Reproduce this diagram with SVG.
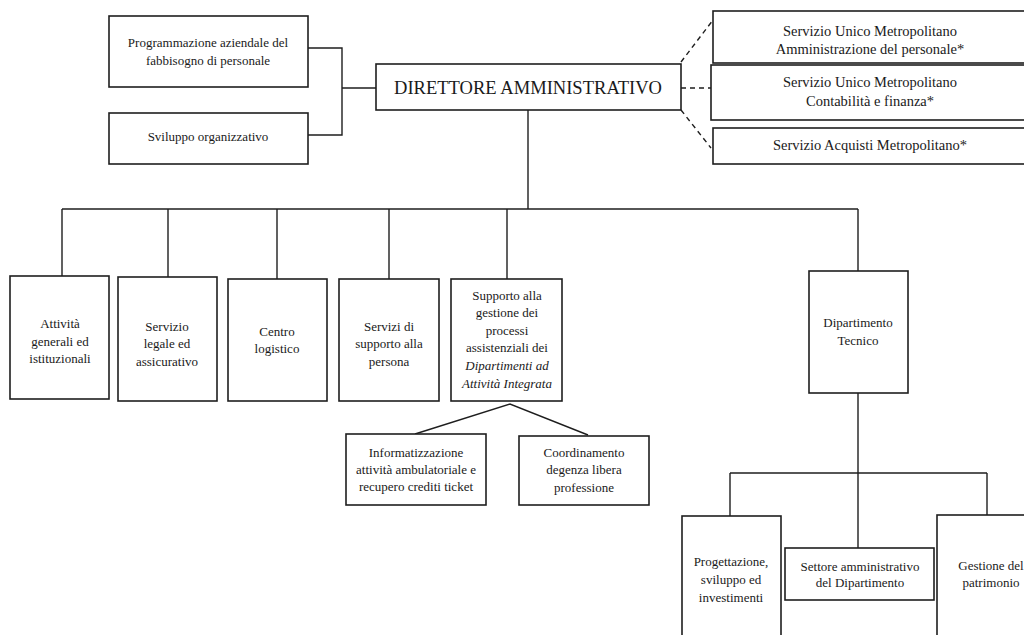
<svg xmlns="http://www.w3.org/2000/svg" width="1024" height="635" viewBox="0 0 1024 635">
<style>
.box{fill:#fff;stroke:#1e1e1e;stroke-width:1.6}
.ln{fill:none;stroke:#1e1e1e;stroke-width:1.4}
.dash{fill:none;stroke:#1e1e1e;stroke-width:1.4;stroke-dasharray:5 4}
text{font-family:"Liberation Serif","Times New Roman",serif;fill:#1a1a1a;text-anchor:middle}
.s{font-size:13px}
.m{font-size:14.5px}
.it{font-style:italic}
</style>
<rect width="1024" height="635" fill="#fff"/>
<g id="connectors">
<polyline class="ln" points="308,48 342,48 342,135 308,135"/>
<line class="ln" x1="342" y1="88" x2="376" y2="88"/>
<line class="dash" x1="681" y1="62" x2="713" y2="20"/>
<line class="dash" x1="681" y1="88" x2="711" y2="88"/>
<line class="dash" x1="681" y1="110" x2="711" y2="148"/>
<line class="ln" x1="528" y1="110" x2="528" y2="209"/>
<line class="ln" x1="62" y1="209" x2="858" y2="209"/>
<line class="ln" x1="62" y1="209" x2="62" y2="276"/>
<line class="ln" x1="168" y1="209" x2="168" y2="277"/>
<line class="ln" x1="277" y1="209" x2="277" y2="279"/>
<line class="ln" x1="389" y1="209" x2="389" y2="279"/>
<line class="ln" x1="507" y1="209" x2="507" y2="279"/>
<line class="ln" x1="858" y1="209" x2="858" y2="271"/>
<polyline class="ln" points="415,434 510,404 588,435"/>
<line class="ln" x1="858" y1="393" x2="858" y2="548"/>
<line class="ln" x1="730" y1="473" x2="987" y2="473"/>
<line class="ln" x1="730" y1="473" x2="730" y2="516"/>
<line class="ln" x1="987" y1="473" x2="987" y2="515"/>
</g>
<g id="n-prog">
<rect class="box" x="109" y="16" width="199" height="71"/>
<text class="s" x="208" y="47">Programmazione aziendale del</text>
<text class="s" x="208" y="65">fabbisogno di personale</text>
</g>
<g id="n-svil">
<rect class="box" x="109" y="113" width="199" height="51"/>
<text class="s" x="208" y="141">Sviluppo organizzativo</text>
</g>
<g id="n-dir">
<rect class="box" x="376" y="64" width="305" height="46"/>
<text x="528" y="94" font-size="19" textLength="268" lengthAdjust="spacingAndGlyphs">DIRETTORE AMMINISTRATIVO</text>
</g>
<g id="n-sum1">
<rect class="box" x="713" y="11" width="320" height="52"/>
<text class="m" x="870" y="36">Servizio Unico Metropolitano</text>
<text class="m" x="870" y="54">Amministrazione del personale*</text>
</g>
<g id="n-sum2">
<rect class="box" x="711" y="65" width="322" height="55"/>
<text class="m" x="870" y="87">Servizio Unico Metropolitano</text>
<text class="m" x="870" y="106">Contabilità e finanza*</text>
</g>
<g id="n-acq">
<rect class="box" x="713" y="128" width="320" height="36"/>
<text class="m" x="870" y="150">Servizio Acquisti Metropolitano*</text>
</g>
<g id="n-att">
<rect class="box" x="10" y="276" width="99" height="123"/>
<text class="s" x="60" y="328">Attività</text>
<text class="s" x="60" y="346">generali ed</text>
<text class="s" x="60" y="363">istituzionali</text>
</g>
<g id="n-leg">
<rect class="box" x="118" y="277" width="99" height="124"/>
<text class="s" x="167" y="331">Servizio</text>
<text class="s" x="167" y="348">legale ed</text>
<text class="s" x="167" y="366">assicurativo</text>
</g>
<g id="n-cen">
<rect class="box" x="228" y="279" width="99" height="122"/>
<text class="s" x="277" y="336">Centro</text>
<text class="s" x="277" y="353">logistico</text>
</g>
<g id="n-ser">
<rect class="box" x="339" y="279" width="100" height="122"/>
<text class="s" x="389" y="331">Servizi di</text>
<text class="s" x="389" y="348">supporto alla</text>
<text class="s" x="389" y="366">persona</text>
</g>
<g id="n-sup">
<rect class="box" x="451" y="279" width="111" height="122"/>
<text class="s" x="507" y="300">Supporto alla</text>
<text class="s" x="507" y="317">gestione dei</text>
<text class="s" x="507" y="335">processi</text>
<text class="s" x="507" y="352">assistenziali dei</text>
<text class="s it" x="507" y="370">Dipartimenti ad</text>
<text class="s it" x="507" y="388">Attività Integrata</text>
</g>
<g id="n-inf">
<rect class="box" x="346" y="434" width="140" height="71"/>
<text class="s" x="416" y="457">Informatizzazione</text>
<text class="s" x="416" y="474">attività ambulatoriale e</text>
<text class="s" x="416" y="491">recupero crediti ticket</text>
</g>
<g id="n-coo">
<rect class="box" x="519" y="436" width="130" height="69"/>
<text class="s" x="584" y="457">Coordinamento</text>
<text class="s" x="584" y="474">degenza libera</text>
<text class="s" x="584" y="492">professione</text>
</g>
<g id="n-dip">
<rect class="box" x="809" y="271" width="99" height="122"/>
<text class="s" x="858" y="327">Dipartimento</text>
<text class="s" x="858" y="345">Tecnico</text>
</g>
<g id="n-pro">
<rect class="box" x="682" y="516" width="99" height="130"/>
<text class="s" x="731" y="566">Progettazione,</text>
<text class="s" x="731" y="584">sviluppo ed</text>
<text class="s" x="731" y="602">investimenti</text>
</g>
<g id="n-set">
<rect class="box" x="785" y="548" width="149" height="52"/>
<text class="s" x="860" y="571">Settore amministrativo</text>
<text class="s" x="860" y="587">del Dipartimento</text>
</g>
<g id="n-ges">
<rect class="box" x="937" y="515" width="110" height="130"/>
<text class="s" x="991" y="570">Gestione del</text>
<text class="s" x="991" y="587">patrimonio</text>
</g>
</svg>
